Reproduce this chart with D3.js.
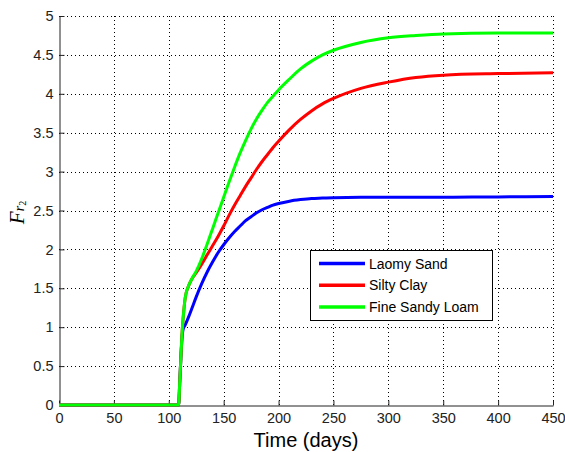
<!DOCTYPE html>
<html><head><meta charset="utf-8">
<script src="https://cdn.jsdelivr.net/npm/d3@7/dist/d3.min.js"></script>
<style>
body{margin:0;background:#fff;}
svg{display:block;}
</style></head>
<body>
<svg id="chart" width="565" height="452"></svg>
<script>
// ---- data ----
const time = [0, 105, 109, 110, 111, 112, 113, 115, 118, 121, 125, 130, 135, 140, 145, 150, 155, 160, 165, 170, 175, 180, 185, 190, 195, 200, 210, 220, 230, 240, 250, 275, 300, 325, 350, 400, 450];
const laomySand = [0, 0, 0, 0.3, 0.6, 0.85, 0.97, 1.03, 1.13, 1.24, 1.39, 1.56, 1.71, 1.84, 1.96, 2.06, 2.15, 2.23, 2.30, 2.37, 2.42, 2.47, 2.51, 2.54, 2.57, 2.59, 2.62, 2.64, 2.655, 2.66, 2.665, 2.67, 2.67, 2.67, 2.67, 2.675, 2.68];
const siltyClay = [0, 0, 0, 0.3, 0.6, 0.9, 1.1, 1.38, 1.53, 1.62, 1.70, 1.81, 1.93, 2.05, 2.17, 2.30, 2.44, 2.57, 2.69, 2.81, 2.92, 3.03, 3.13, 3.22, 3.31, 3.39, 3.54, 3.67, 3.78, 3.87, 3.94, 4.07, 4.15, 4.21, 4.24, 4.26, 4.27];
const fineSandyLoam = [0, 0, 0, 0.3, 0.6, 0.9, 1.1, 1.38, 1.53, 1.62, 1.72, 1.88, 2.07, 2.27, 2.47, 2.67, 2.87, 3.06, 3.24, 3.40, 3.55, 3.68, 3.79, 3.89, 3.97, 4.05, 4.19, 4.32, 4.42, 4.50, 4.56, 4.66, 4.72, 4.75, 4.77, 4.78, 4.78];
const seriesNames = ["Laomy Sand", "Silty Clay", "Fine Sandy Loam"];
const seriesColors = ["#0000ff", "#ff0000", "#00ff00"];
const xTicks = [0, 50, 100, 150, 200, 250, 300, 350, 400, 450];
const yTicks = [0, 0.5, 1, 1.5, 2, 2.5, 3, 3.5, 4, 4.5, 5];
const xLabel = "Time (days)";

const series = [laomySand, siltyClay, fineSandyLoam].map((vals, i) => ({
  name: seriesNames[i], color: seriesColors[i],
  pts: time.map((t, j) => [t, vals[j]])
}));

// ---- layout ----
const L = 59, R = 553, T = 16, B = 405;
const svg = d3.select("#chart");
const x = d3.scaleLinear().domain([0, 450]).range([L, R]);
const y = d3.scaleLinear().domain([0, 5]).range([B, T]);
const font = "'Liberation Sans', Arial, sans-serif";

// grid
const grid = svg.append("g").attr("stroke", "#000").attr("stroke-width", 1).attr("stroke-dasharray", "1,3");
grid.selectAll(".gx").data(xTicks.filter(d => d !== 0)).enter().append("line")
  .attr("x1", d => Math.round(x(d)) + 0.5).attr("x2", d => Math.round(x(d)) + 0.5)
  .attr("y1", B).attr("y2", T);
grid.selectAll(".gy").data(yTicks.filter(d => d !== 0)).enter().append("line")
  .attr("y1", d => Math.round(y(d)) + 0.5).attr("y2", d => Math.round(y(d)) + 0.5)
  .attr("x1", L).attr("x2", R);

// axes
const xAxis = d3.axisBottom(x).tickValues(xTicks).tickFormat(d3.format("d")).tickSizeInner(-5).tickSizeOuter(0).tickPadding(7);
const yAxis = d3.axisLeft(y).tickValues(yTicks).tickFormat(d => String(d)).tickSizeInner(-5).tickSizeOuter(0).tickPadding(6);
const gx = svg.append("g").attr("transform", `translate(0,${B + 0.5})`).call(xAxis);
const gy = svg.append("g").attr("transform", `translate(${L + 0.5},0)`).call(yAxis);
[gx, gy].forEach(g => {
  g.select(".domain").attr("stroke", "#222");
  g.selectAll(".tick line").attr("stroke", "#222");
  g.selectAll(".tick text").attr("font-family", font).attr("font-size", "14.5px").attr("fill", "#222");
});

// lines
const line = d3.line().x(d => x(d[0])).y(d => y(d[1])).curve(d3.curveMonotoneX);
svg.append("g").selectAll("path").data(series).enter().append("path")
  .attr("d", d => line(d.pts)).attr("fill", "none")
  .attr("stroke", d => d.color).attr("stroke-width", 3).attr("stroke-linejoin", "round");

// x label
svg.append("text").attr("x", (L + R) / 2).attr("y", 447).attr("text-anchor", "middle")
  .attr("font-family", font).attr("font-size", "20px").attr("fill", "#000").text(xLabel);

// y label F_{r_2}
const yl = svg.append("text").attr("transform", `translate(24,${(T + B) / 2 + 2}) rotate(-90)`)
  .attr("text-anchor", "middle").attr("font-family", "'Liberation Serif', 'Times New Roman', serif")
  .attr("font-style", "italic").attr("fill", "#000");
yl.append("tspan").attr("font-size", "21px").text("F");
yl.append("tspan").attr("font-size", "14px").attr("dy", 0).text("r");
yl.append("tspan").attr("font-size", "10px").attr("dy", 2).attr("font-style", "normal").text("2");

// legend
const lg = svg.append("g");
lg.append("rect").attr("x", 310.5).attr("y", 250.5).attr("width", 182).attr("height", 70)
  .attr("fill", "#fff").attr("stroke", "#000").attr("stroke-width", 1);
const rows = lg.selectAll(".row").data(series).enter().append("g")
  .attr("transform", (d, i) => `translate(0,${263.5 + i * 21.7})`);
rows.append("line").attr("x1", 319).attr("x2", 365).attr("y1", 0).attr("y2", 0)
  .attr("stroke", d => d.color).attr("stroke-width", 3.5);
rows.append("text").attr("x", 369).attr("y", 5).attr("font-family", font).attr("font-size", "14px")
  .attr("fill", "#000").text(d => d.name);
</script>
</body></html>
